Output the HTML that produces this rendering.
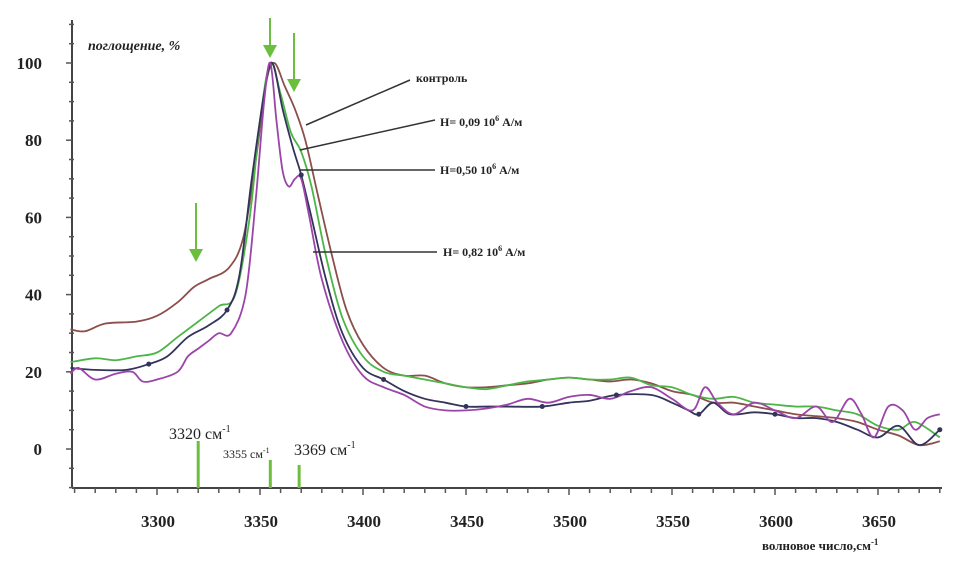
<!DOCTYPE html>
<html><head><meta charset="utf-8"><style>
html,body{margin:0;padding:0;background:#fff;}
svg{display:block;}
text{font-family:"Liberation Serif",serif;}
</style></head>
<body>
<svg id="chart" width="969" height="570" viewBox="0 0 969 570" xmlns="http://www.w3.org/2000/svg">
<g id="axes"></g>
<g id="series"></g>
<g id="annot"></g>
</svg>
<script>
const xTicks=[3300,3350,3400,3450,3500,3550,3600,3650];
const yTicks=[0,20,40,60,80,100];
const ctrlX=[3258,3265,3275,3290,3300,3310,3318,3325,3335,3342,3348,3353,3357,3362,3367,3372,3378,3385,3392,3400,3410,3420,3430,3440,3450,3460,3470,3480,3490,3500,3510,3520,3530,3540,3550,3560,3570,3580,3590,3600,3610,3620,3630,3640,3650,3660,3670,3680];
const ctrlY=[31,30.5,32.5,33,34.5,38,42,44,47,55,75,95,100,94,88,80,66,50,36,27,21,19,19,17,16,16,16.5,17,18,18.5,18,17.5,18,17,15,14,12,12,11,10,9,8.5,8,7,5,3.5,1,2];
const h09X=[3258,3270,3280,3290,3300,3310,3320,3330,3338,3345,3350,3355,3360,3365,3370,3375,3382,3390,3400,3410,3420,3430,3440,3450,3460,3470,3480,3490,3500,3510,3520,3530,3540,3550,3560,3570,3580,3590,3600,3610,3620,3630,3640,3650,3660,3668,3680];
const h09Y=[22.5,23.5,23,24,25,29,33,37,40,60,85,100,92,82,77,68,50,34,24,20,19,18,17,16,15.5,16.5,17.5,18,18.5,18,18,18.5,16.5,16,14,13,13.5,12,11.5,11,11,10,9,6,5,7,3];
const h50X=[3258,3270,3285,3296,3305,3315,3325,3334,3340,3346,3352,3356,3361,3366,3370,3375,3382,3390,3400,3410,3420,3430,3440,3450,3460,3470,3487,3500,3510,3523,3540,3550,3558,3563,3570,3578,3590,3600,3610,3620,3630,3640,3650,3660,3670,3680];
const h50Y=[21,20.5,20.5,22,24,29,32,36,45,70,92,100,88,78,71,60,44,30,21,18,15,13,12,11,11,11,11,12,12.5,14,14,12,10,9,12,9,9.5,9,8,8,7,5,3,6,1,5];
const h82X=[3258,3262,3270,3280,3288,3293,3300,3310,3315,3320,3325,3330,3336,3343,3348,3352,3355,3358,3361,3364,3367,3370,3374,3380,3390,3400,3410,3420,3430,3440,3450,3460,3470,3480,3490,3500,3510,3520,3530,3540,3550,3560,3566,3572,3580,3590,3600,3610,3620,3628,3636,3642,3648,3655,3662,3668,3674,3680];
const h82Y=[19.5,21,18,19.5,20,17.5,18,20,24,26,28,30,30,40,65,90,100,85,72,68,70,70,60,44,28,19,16,14,11,10,10,10.5,11.5,13,12,13.5,14,13,15,16,13,10,16,12,9,12,10,8,11,7,13,9,3,11,10,5,8,9];
const h50Markers=[3296,3334,3370,3410,3450,3487,3523,3563,3600,3680];

const X0=3300,PX0=157,SX=2.06;
function xs(v){return PX0+(v-X0)*SX;}
function ys(v){return 449-v*3.86;}
const NS="http://www.w3.org/2000/svg";
function mk(tag,attrs,parent){const e=document.createElementNS(NS,tag);for(const k in attrs)e.setAttribute(k,attrs[k]);parent.appendChild(e);return e;}
const axes=document.getElementById('axes'),ser=document.getElementById('series'),an=document.getElementById('annot');
const L=72,R=942,B=488,T=20;
let e;
e=mk('line',{x1:L,y1:T,x2:L,y2:B,stroke:'#444','stroke-width':2},axes);

e=mk('line',{x1:L,y1:B,x2:R,y2:B,stroke:'#444','stroke-width':2},axes);

for(let v=-10;v<=110;v+=5){const maj=v%20===0;mk('line',{x1:L-(maj?6:3),y1:ys(v),x2:L+(maj?0:2),y2:ys(v),stroke:'#555','stroke-width':1.5},axes);}
for(let v=3260;v<=3680;v+=10){const maj=v%50===0;mk('line',{x1:xs(v),y1:B,x2:xs(v),y2:B+(maj?7:5),stroke:'#555','stroke-width':1.5},axes);}
yTicks.forEach(v=>{e=mk('text',{x:L-30,y:ys(v)+6,'text-anchor':'end','font-size':17,'font-weight':'bold',fill:'#222'},axes);e.textContent=v;
});
xTicks.forEach(v=>{e=mk('text',{x:xs(v)+1,y:527,'text-anchor':'middle','font-size':17,'font-weight':'bold',fill:'#222'},axes);e.textContent=v;
});
e=mk('text',{x:88,y:50,'font-size':14,'font-weight':'bold','font-style':'italic',fill:'#222'},axes);e.textContent='поглощение, %';

e=mk('text',{x:762,y:550,'font-size':13,'font-weight':'bold',fill:'#222'},axes);e.innerHTML='волновое число,см<tspan dy="-5" font-size="9">-1</tspan>';


function path(xa,ya){const p=xa.map((x,i)=>[xs(x),ys(ya[i])]);let d='M'+p[0][0]+','+p[0][1];
for(let i=0;i<p.length-1;i++){const p0=p[i-1]||p[i],p1=p[i],p2=p[i+1],p3=p[i+2]||p2;
d+=' C'+(p1[0]+(p2[0]-p0[0])/6)+','+(p1[1]+(p2[1]-p0[1])/6)+' '+(p2[0]-(p3[0]-p1[0])/6)+','+(p2[1]-(p3[1]-p1[1])/6)+' '+p2[0]+','+p2[1];}return d;}
e=mk('path',{d:path(ctrlX,ctrlY),fill:'none',stroke:'#8b4f4c','stroke-width':1.8},ser);

e=mk('path',{d:path(h09X,h09Y),fill:'none',stroke:'#4db548','stroke-width':1.8},ser);

e=mk('path',{d:path(h50X,h50Y),fill:'none',stroke:'#33335c','stroke-width':1.8},ser);

e=mk('path',{d:path(h82X,h82Y),fill:'none',stroke:'#9b45a8','stroke-width':1.8},ser);

h50Markers.forEach(v=>{let i=0,best=1e9;h50X.forEach((x,j)=>{if(Math.abs(x-v)<best){best=Math.abs(x-v);i=j;}});
e=mk('circle',{cx:xs(h50X[i]),cy:ys(h50Y[i]),r:2.5,fill:'#33335c'},ser);
});

const leaders=[[306,125,410,80,'контроль',416,82,'label-control'],[300,150,435,120,'H= 0,09 10<tspan dy="-5" font-size="8">6</tspan><tspan dy="5"> А/м</tspan>',440,126,'label-h-0-09'],
[300,170,435,170,'H=0,50 10<tspan dy="-5" font-size="8">6</tspan><tspan dy="5"> А/м</tspan>',440,174,'label-h-0-50'],[313,252,437,252,'H= 0,82 10<tspan dy="-5" font-size="8">6</tspan><tspan dy="5"> А/м</tspan>',443,256,'label-h-0-82']];
leaders.forEach(l=>{e=mk('line',{x1:l[0],y1:l[1],x2:l[2],y2:l[3],stroke:'#333','stroke-width':1.5},an);

e=mk('text',{x:l[5],y:l[6],'font-size':12,'font-weight':'bold',fill:'#222'},an);e.innerHTML=l[4];
});
[[270,18,58],[294,33,92],[196,203,262]].forEach(a=>{e=mk('g',{},an);

mk('line',{x1:a[0],y1:a[1],x2:a[0],y2:a[2]-10,stroke:'#6cbf3c','stroke-width':2},e);
mk('polygon',{points:(a[0]-7)+','+(a[2]-13)+' '+(a[0]+7)+','+(a[2]-13)+' '+a[0]+','+a[2],fill:'#6cbf3c'},e);});
[[3320,441],[3355,460],[3369,465]].forEach(b=>{e=mk('line',{x1:xs(b[0]),y1:b[1],x2:xs(b[0]),y2:B,stroke:'#6cbf3c','stroke-width':3},an);
});
e=mk('text',{x:169,y:439,'font-size':16,fill:'#222'},an);e.innerHTML='3320 см<tspan dy="-7" font-size="10">-1</tspan>';

e=mk('text',{x:223,y:458,'font-size':12,fill:'#222'},an);e.innerHTML='3355 см<tspan dy="-5" font-size="8">-1</tspan>';

e=mk('text',{x:294,y:455,'font-size':16,fill:'#222'},an);e.innerHTML='3369 см<tspan dy="-7" font-size="10">-1</tspan>';

</script>
</body></html>
